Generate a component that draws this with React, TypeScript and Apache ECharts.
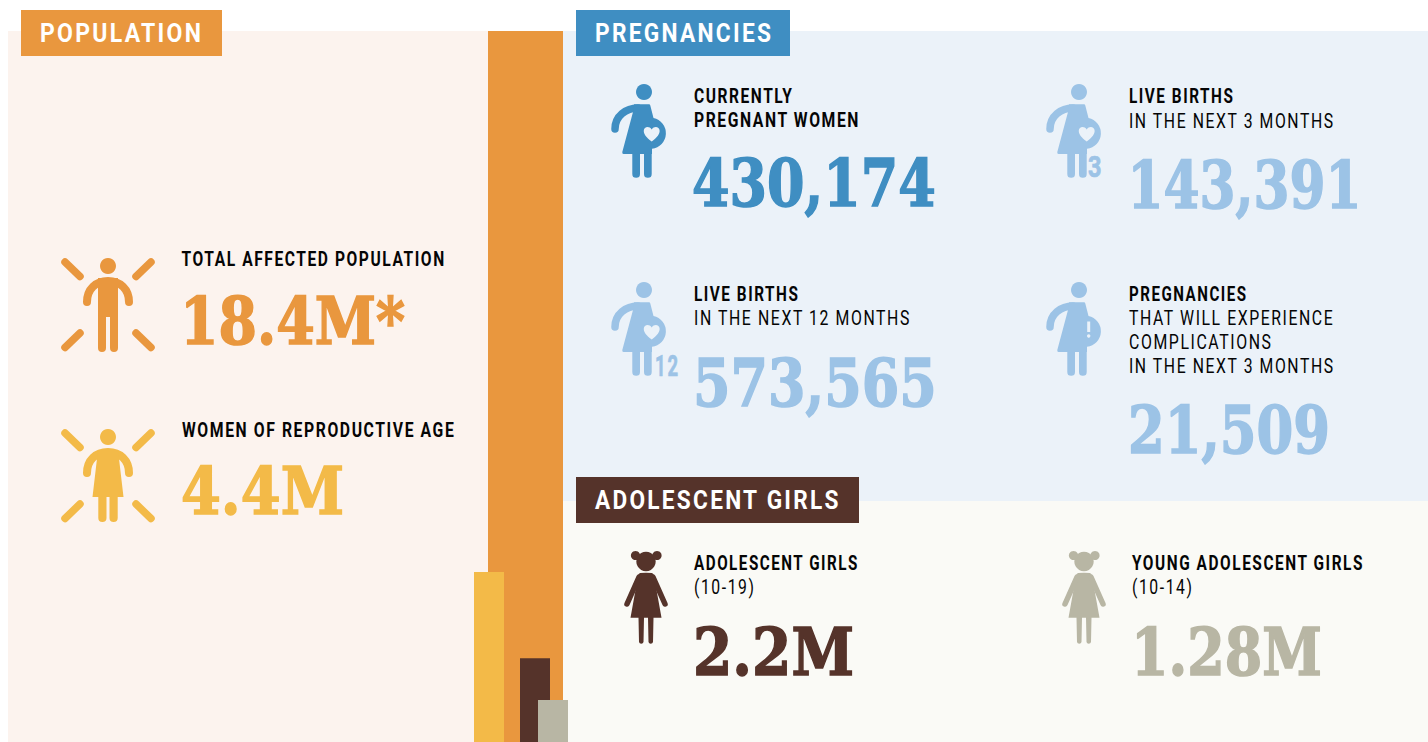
import React, { useEffect, useRef } from "react";
import * as echarts from "echarts";

// ---- Data ----
const barCategories = ["Total affected population", "Women of reproductive age", "Adolescent girls", "Young adolescent girls"];
const barValues = [18.4, 4.4, 2.17, 1.09];
const barMax = 18.4;
const sectionTitles = ["POPULATION", "PREGNANCIES", "ADOLESCENT GIRLS"];
const populationLabels = ["TOTAL AFFECTED POPULATION", "WOMEN OF REPRODUCTIVE AGE"];
const populationValues = ["18.4M*", "4.4M"];
const pregnancyHeads = ["CURRENTLY", "LIVE BIRTHS", "LIVE BIRTHS", "PREGNANCIES"];
const pregnancyValues = ["430,174", "143,391", "573,565", "21,509"];
const pregnancySubs = ["PREGNANT WOMEN", "IN THE NEXT 3 MONTHS", "IN THE NEXT 12 MONTHS", "THAT WILL EXPERIENCE", "COMPLICATIONS", "IN THE NEXT 3 MONTHS"];
const girlLabels = ["ADOLESCENT GIRLS", "YOUNG ADOLESCENT GIRLS"];
const girlAges = ["(10-19)", "(10-14)"];
const girlValues = ["2.2M", "1.28M"];
const iconBadges = ["3", "12"];

// ---- Styles ----
const ORANGE = "#E9973E";
const YELLOW = "#F3BA48";
const BLUE = "#3F8EC2";
const LIGHT = "#9CC3E6";
const BROWN = "#55332A";
const TAN = "#B8B6A4";
const BG_POP = "#FCF3EE";
const BG_PREG = "#EBF2F9";
const BG_GIRL = "#FAFAF6";
const BLACK = "#050505";
const barColors = [ORANGE, YELLOW, BROWN, TAN];
const barBoxes = [[488, 75], [474, 30], [520, 30], [538, 30]];

const SANS = "Roboto";
const SERIF = "DejaVu Serif";
const SPACING = 0.1;

const shapes: Record<string, string> = {
  manBody: "M -10,12 L 10,12 L 10,82 A 4 4 0 0 1 2,82 L 2,51 L -2,51 L -2,82 A 4 4 0 0 1 -10,82 Z",
  arms: "M -21,36 C -21,23 -12,15 0,15 C 12,15 21,23 21,36",
  womanBody: "M -10,13 L 10,13 L 15.5,60 L 9.7,60 L 9.7,81 A 4.1 4.1 0 0 1 1.5,81 L 1.5,60 L -1.5,60 L -1.5,81 A 4.1 4.1 0 0 1 -9.7,81 L -9.7,60 L -15.5,60 Z",
  pregArm: "M -29,37 C -29,24 -18,16 -6,16",
  pregBody: "M -10,12.3 L 5,12.3 Q 6,12.3 6.3,13.5 L 9.5,26.1 A 15.5 15.5 0 0 1 8,56.7 L 8,62 L 7.7,62 L 7.7,82 A 3.85 3.85 0 0 1 0,82 L 0,62 L -4,62 L -4,82 A 3.85 3.85 0 0 1 -11.7,82 L -11.7,62 L -20.5,62 Q -22,62 -21.7,60 L -11,20 Z",
  heart: "M 7.7,49.5 C 2,45 -0.5,42 -0.2,38.5 C 0,35 5,33.5 7.7,37.5 C 10.4,33.5 15.4,35 15.6,38.5 C 15.9,42 13.4,45 7.7,49.5 Z",
  girlBody: "M -6,12 Q 0,11.5 6,12 Q 7.5,12.5 8,15 L 15.5,56.7 L 7.5,56.7 L 7,81 A 2.3 2.3 0 0 1 2.5,81 L 2,56.7 L -2,56.7 L -2.5,81 A 2.3 2.3 0 0 1 -7,81 L -7.5,56.7 L -15.5,56.7 L -8,15 Q -7.5,12.5 -6,12 Z",
  girlArms: "M -7,16 L -19,43 M 7,16 L 19,43",
};
Object.entries(shapes).forEach(([k, d]) => {
  echarts.graphic.registerShape("icon_" + k, echarts.graphic.extendPath(d, {}));
});

const measureCtx = document.createElement("canvas").getContext("2d") as any;
function T(text: string, x: number, base: number, w: number, size: number, weight: string, family: string, fill: string, thicken = 0) {
  measureCtx.font = `${weight} ${size}px "${family}"`;
  const sp = family === SANS ? SPACING * size : 0;
  measureCtx.letterSpacing = `${sp}px`;
  const measured = measureCtx.measureText(text).width - sp;
  const style: any = { text, font: `${weight} ${size}px ${family}`, fill, align: "left", verticalAlign: "middle" };
  if (thicken > 0) {
    style.stroke = fill;
    style.lineWidth = thicken;
  }
  return { type: "text", x, y: base - 0.345 * size, scaleX: w / measured, silent: true, z: 10, style };
}
const LABEL = 19.5;
const NUM = 66;
const bold = (t: string, x: number, b: number, w: number) => T(t, x, b + 0.3, w, LABEL, "bold", SANS, BLACK);
const reg = (t: string, x: number, b: number, w: number) => T(t, x, b + 0.3, w, LABEL, "normal", SANS, BLACK);
const num = (t: string, x: number, b: number, w: number, c: string) => T(t, x - 2, b, w + 3, NUM, "bold", SERIF, c, 1.6);

const rect = (x: number, y: number, w: number, h: number, fill: string, z = 1) => ({
  type: "rect", shape: { x, y, width: w, height: h }, style: { fill }, silent: true, z,
});
const fillShape = (n: string, x: number, y: number, fill: string, z = 5) => ({
  type: "icon_" + n, x, y, style: { fill }, silent: true, z,
});
const strokeShape = (n: string, x: number, y: number, stroke: string, lineWidth: number) => ({
  type: "icon_" + n, x, y, style: { fill: "none", stroke, lineWidth, lineCap: "round" }, silent: true, z: 5,
});
const head = (x: number, y: number, r: number, fill: string, z = 5) => ({
  type: "circle", shape: { cx: x, cy: y, r }, style: { fill }, silent: true, z,
});

function rays(x: number, y: number, c: string) {
  const segs = [[-43, -4, -28, 10.5], [43, -4, 28, 10.5], [-28, 67, -43, 81.5], [28, 67, 43, 81.5]];
  return segs.map(([a, b, d, e]) => ({
    type: "line", shape: { x1: x + a, y1: y + b, x2: x + d, y2: y + e },
    style: { stroke: c, lineWidth: 7.5, lineCap: "round" }, silent: true, z: 5,
  }));
}
function pregnant(x: number, y: number, c: string) {
  return [
    head(x, y, 8, c),
    strokeShape("pregArm", x, y, c, 7.5),
    fillShape("pregBody", x, y, c),
  ];
}
const heart = (x: number, y: number) => fillShape("heart", x, y, BG_PREG, 6);
function girl(x: number, y: number, c: string) {
  return [
    head(x, y + 0.5, 9.7, c),
    head(x - 10.5, y - 5.5, 4.6, c),
    head(x + 11, y - 5.5, 4.6, c),
    fillShape("girlBody", x, y, c),
    strokeShape("girlArms", x, y, c, 5.5),
  ];
}

const graphics: any[] = [
  rect(8, 31, 560, 711, BG_POP),
  rect(563, 31, 865, 470, BG_PREG),
  rect(563, 501, 865, 241, BG_GIRL),
  rect(21, 10, 201, 46, ORANGE),
  rect(576, 10, 214, 46, BLUE),
  rect(576, 477, 283, 46, BROWN),
  T(sectionTitles[0], 40, 42, 161, 26, "bold", SANS, "#FFFFFF"),
  T(sectionTitles[1], 595, 42, 176, 26, "bold", SANS, "#FFFFFF"),
  T(sectionTitles[2], 595, 509, 244, 26, "bold", SANS, "#FFFFFF"),

  ...rays(108, 266, ORANGE),
  head(108, 266, 8, ORANGE),
  strokeShape("arms", 108, 266, ORANGE, 8),
  fillShape("manBody", 108, 266, ORANGE),
  bold(populationLabels[0], 181.5, 266, 263),
  num(populationValues[0], 182, 343, 222, ORANGE),

  ...rays(108, 437, YELLOW),
  head(108, 437, 8, YELLOW),
  strokeShape("arms", 108, 437, YELLOW, 8),
  fillShape("womanBody", 108, 437, YELLOW),
  bold(populationLabels[1], 182, 437, 272),
  num(populationValues[1], 183, 514, 160, YELLOW),

  ...pregnant(644, 92, BLUE),
  heart(644, 92),
  bold(pregnancyHeads[0], 694, 103, 98),
  bold(pregnancySubs[0], 694, 127, 165),
  num(pregnancyValues[0], 694, 205, 241, BLUE),

  ...pregnant(1079, 92, LIGHT),
  heart(1079, 92),
  T(iconBadges[0], 1088, 177.5, 13.5, 30, "bold", SANS, LIGHT, 0.7),
  bold(pregnancyHeads[1], 1129, 103, 104),
  reg(pregnancySubs[1], 1129, 127.5, 205),
  num(pregnancyValues[1], 1129.5, 207, 231, LIGHT),

  ...pregnant(644, 290, LIGHT),
  heart(644, 290),
  T(iconBadges[1], 655, 376, 23, 30, "bold", SANS, LIGHT, 0.7),
  bold(pregnancyHeads[2], 694, 301, 104),
  reg(pregnancySubs[2], 694, 325, 216),
  num(pregnancyValues[2], 695, 405, 241, LIGHT),

  ...pregnant(1079, 290, LIGHT),
  rect(1087.2, 321.5, 3, 10.5, BG_PREG, 6),
  head(1088.7, 336, 1.7, BG_PREG, 6),
  bold(pregnancyHeads[3], 1129, 301, 117),
  reg(pregnancySubs[3], 1129, 325, 204),
  reg(pregnancySubs[4], 1129, 349, 142),
  reg(pregnancySubs[5], 1129, 373, 205),
  num(pregnancyValues[3], 1130, 453, 199, LIGHT),

  ...girl(646, 561, BROWN),
  bold(girlLabels[0], 694, 570, 164),
  reg(girlAges[0], 694, 594, 60),
  num(girlValues[0], 695, 674, 158, BROWN),

  ...girl(1084, 561, TAN),
  bold(girlLabels[1], 1132, 570, 231),
  reg(girlAges[1], 1132, 594, 60),
  num(girlValues[1], 1133, 674, 188, TAN),
];

const CHART_TOP = 31;
const CHART_H = 711;

function buildOption() {
  return {
    animation: false,
    backgroundColor: "#FFFFFF",
    grid: barBoxes.map(([left, width]) => ({ left, width, top: CHART_TOP, height: CHART_H, containLabel: false, z: 3 })),
    xAxis: barCategories.map((c, i) => ({
      type: "category", gridIndex: i, data: [c], show: false,
    })),
    yAxis: barCategories.map((_, i) => ({
      type: "value", gridIndex: i, min: 0, max: barMax, show: false,
    })),
    series: barCategories.map((c, i) => ({
      type: "bar", name: c, xAxisIndex: i, yAxisIndex: i, z: 3 + i,
      data: [barValues[i]], barWidth: "100%", silent: true,
      itemStyle: { color: barColors[i] },
    })),
    graphic: { elements: graphics },
  };
}

export default function App() {
  const ref = useRef<HTMLDivElement>(null);
  useEffect(() => {
    document.body.style.margin = "0";
    document.body.style.background = "#FFFFFF";
    const chart = echarts.init(ref.current as HTMLDivElement, undefined, { renderer: "svg" });
    chart.setOption(buildOption() as any);
    return () => chart.dispose();
  }, []);
  return (
    <>
      <style>{`svg text[style*="Roboto"]{letter-spacing:${SPACING}em}`}</style>
      <div ref={ref} style={{ position: "absolute", left: 0, top: 0, width: 1428, height: 742 }} />
    </>
  );
}
